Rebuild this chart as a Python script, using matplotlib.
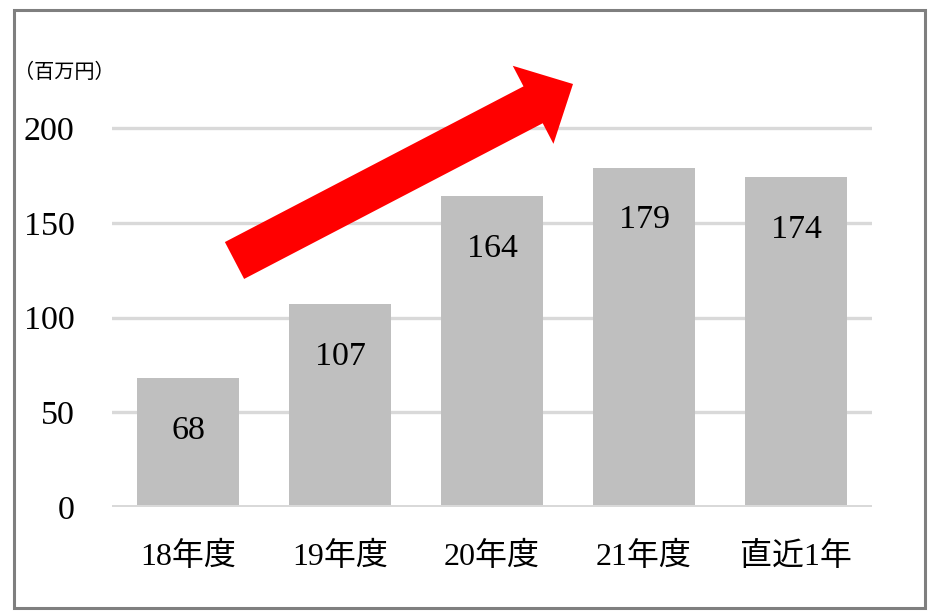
import matplotlib
matplotlib.use('Agg')
import matplotlib.pyplot as plt
import matplotlib.patches as mpatches
from matplotlib.transforms import Affine2D

# Serif digits first, CJK fallback for the kanji
plt.rcParams['font.family'] = ['Liberation Serif', 'Noto Sans CJK JP']

# Sales by fiscal year (millions of yen)
categories = ['18年度', '19年度', '20年度', '21年度', '直近1年']
values = [68, 107, 164, 179, 174]
yticks = [0, 50, 100, 150, 200]
unit_label = '（百万円）'

W, H = 934, 615
BAR_COLOR = '#BFBFBF'
GRID_COLOR = '#D9D9D9'

fig = plt.figure(figsize=(W / 100, H / 100), dpi=100)

# helper: pixel positions measured from the top-left corner of the figure
px = Affine2D().scale(1, -1).translate(0, H).scale(1 / W, 1 / H) + fig.transFigure

# axes: plot area spans x 112..872 px, value 0 at y=507 px, 200 at y=128 px
ppu = (507 - 128) / 200.0
ymax = 215
left, right = 112 / W, 872 / W
bottom = (H - 507) / H
top = (H - (507 - ymax * ppu)) / H
ax = fig.add_axes([left, bottom, right - left, top - bottom])

x = range(len(categories))
ax.bar(x, values, width=0.665, color=BAR_COLOR, zorder=3)

ax.set_xlim(-0.5, len(categories) - 0.5)
ax.set_ylim(0, ymax)
ax.set_yticks(yticks)
for t in yticks[1:]:
    ax.axhline(t, color=GRID_COLOR, linewidth=2.4, zorder=1)
ax.axhline(0, color=GRID_COLOR, linewidth=3.6, zorder=4)

for s in ax.spines.values():
    s.set_visible(False)
ax.tick_params(axis='y', length=0, pad=27, labelsize=24.5)
ax.tick_params(axis='x', length=0, pad=25, labelsize=23)
ax.set_xticks(list(x))
ax.set_xticklabels(categories)

# value labels inside the bars
for i, v in enumerate(values):
    ax.annotate(str(v), xy=(i, v), xytext=(0, -35), textcoords='offset points',
                ha='center', va='center_baseline', fontsize=24.5, zorder=5)

fig.text(14 / W, 1 - 73 / H, unit_label, ha='left', va='center', fontsize=14.5)

# upward trend arrow
arrow = mpatches.FancyArrow(234.5, 260.5, 338.5, -176.5, width=41.6,
                            head_width=88, head_length=45,
                            length_includes_head=True,
                            color='#FF0000', linewidth=0,
                            transform=px, zorder=10)
fig.patches.append(arrow)

# outer frame
frame = mpatches.Rectangle((13.5, 9.5), 911, 598, fill=False,
                           edgecolor='#7F7F7F', linewidth=2.2,
                           transform=px)
fig.patches.append(frame)

fig.savefig('out.png', dpi=100)
